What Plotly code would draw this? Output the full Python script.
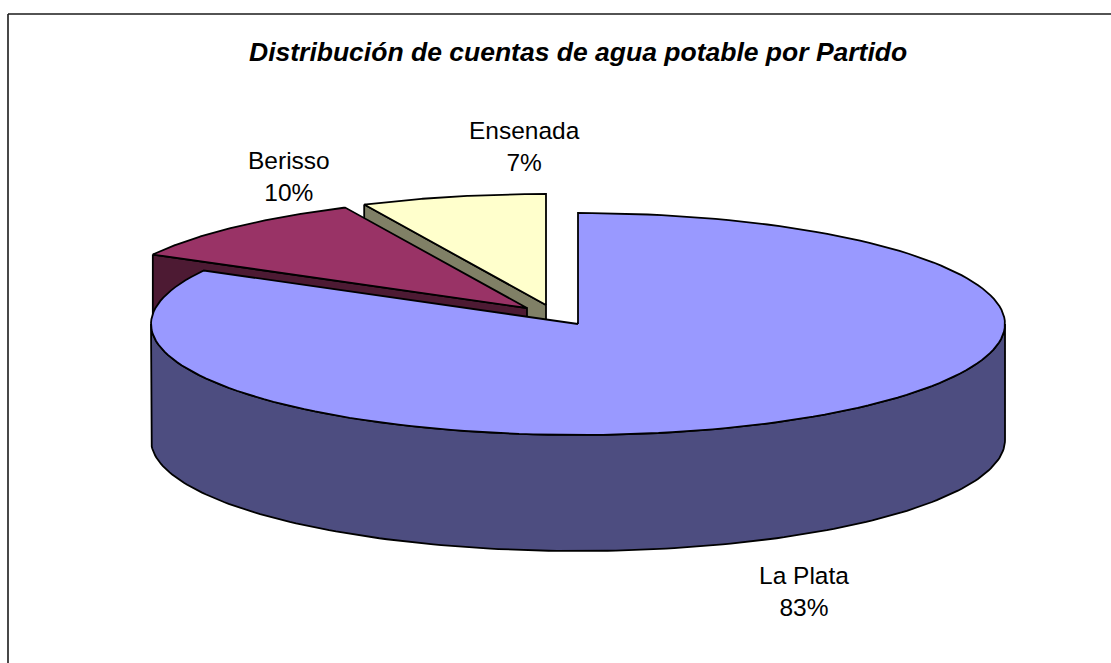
import numpy as np
import plotly.graph_objects as go

TITLE = "Distribución de cuentas de agua potable por Partido"
categories = ["La Plata", "Berisso", "Ensenada"]
values = [83, 10, 7]
top_colors = ["#9999FF", "#993366", "#FFFFCC"]
wall_colors = ["#4D4D80", "#4D1A33", "#808066"]
apex_x = [578, 527, 546]
apex_y = [324, 308, 305]
label_x = [804, 289, 524]
label_y = [591, 176, 146]

RX, RY, DEPTH = 427, 111, 116
LINE = dict(color="black", width=1.8)

total = sum(values)
starts = np.cumsum([0] + values[:-1]) / total * 2 * np.pi
ends = np.cumsum(values) / total * 2 * np.pi


def rim(i, a, b, n=160):
    t = np.linspace(a, b, n)
    return apex_x[i] + RX * np.sin(t), apex_y[i] - RY * np.cos(t)


def poly(xs, ys, fill):
    return go.Scatter(x=list(xs) + [xs[0]], y=list(ys) + [ys[0]], mode="lines", fill="toself",
                      fillcolor=fill, line=LINE, hoverinfo="skip", showlegend=False)


fig = go.Figure()
# painter's order: back slices first
for i in [2, 1, 0]:
    a, b = starts[i], ends[i]
    cx, cy = apex_x[i], apex_y[i]
    if i == 0:
        # curved outer wall, front half of the rim
        x, y = rim(i, np.pi / 2, 3 * np.pi / 2)
        fig.add_trace(poly(np.r_[x, x[::-1]], np.r_[y, y[::-1] + DEPTH], wall_colors[i]))
    else:
        # cut face on the leading radius, facing the viewer
        ex, ey = rim(i, a, a, 1)
        xs = [ex[0], cx, cx, ex[0]]
        ys = [ey[0], cy, cy + DEPTH, ey[0] + DEPTH]
        fig.add_trace(poly(xs, ys, wall_colors[i]))
    x, y = rim(i, a, b)
    fig.add_trace(poly(np.r_[cx, x], np.r_[cy, y], top_colors[i]))

for i, c in enumerate(categories):
    pct = round(values[i] / total * 100)
    fig.add_annotation(x=label_x[i], y=label_y[i], text=f"{c}<br>{pct}%", showarrow=False,
                       font=dict(size=24.5, color="black", family="Liberation Sans"), align="center")

fig.add_annotation(x=578, y=52, text=f"<b><i>{TITLE}</i></b>", showarrow=False,
                   font=dict(size=26.5, color="black", family="Liberation Sans"))

# outer frame: top and left edges only
fig.add_shape(type="line", x0=8, x1=1111, y0=14, y1=14, line=dict(color="#1a1a1a", width=1.6))
fig.add_shape(type="line", x0=8, x1=8, y0=14, y1=663, line=dict(color="#1a1a1a", width=1.6))

fig.update_layout(
    width=1111, height=663, margin=dict(l=0, r=0, t=0, b=0),
    paper_bgcolor="white", plot_bgcolor="white", showlegend=False,
    xaxis=dict(range=[0, 1111], visible=False, fixedrange=True),
    yaxis=dict(range=[663, 0], visible=False, fixedrange=True),
)
fig.write_html("out.html", config={"displayModeBar": False},
               post_script="document.body.style.margin='0';document.body.style.overflow='hidden';")
